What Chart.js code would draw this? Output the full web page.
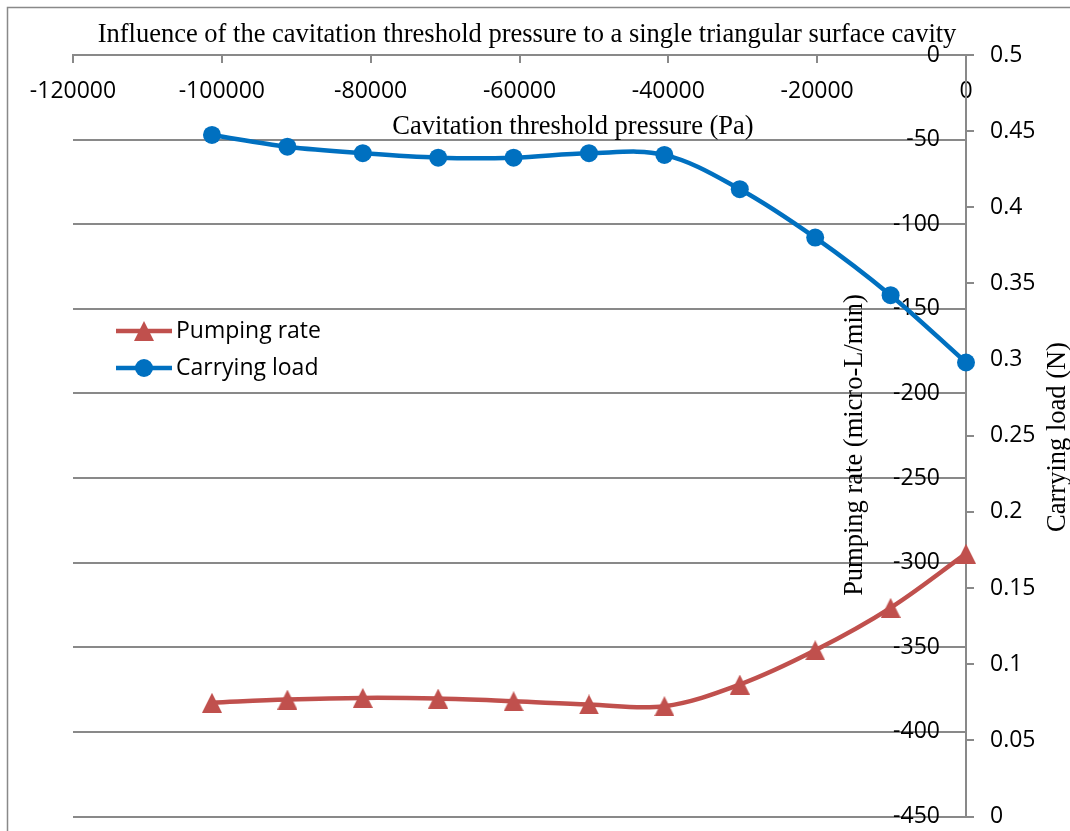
<!DOCTYPE html>
<html lang="en">
  <head>
    <meta charset="UTF-8" />
    <title>Cavitation threshold pressure</title>
    <script src="https://cdn.jsdelivr.net/npm/chart.js@4/dist/chart.umd.min.js"></script>
    <style>
      body {
        margin: 0;
        background: #fff;
      }
      .chart-container {
        width: 1070px;
        height: 831px;
      }
    </style>
  </head>
  <body>
    <div class="chart-container">
      <canvas id="chart"></canvas>
    </div>
  </body>
  <script>
    // cavitation threshold pressure (Pa)
    const pressure = [
      -101325, -91192.5, -81060, -70927.5, -60795, -50662.5, -40530, -30397.5,
      -20265, -10132.5, 0,
    ];
    // micro-L/min
    const pumpingRate = [
      -382.8, -380.9, -379.9, -380.3, -381.9, -383.8, -384.8, -372.0, -351.8,
      -326.7, -294.7,
    ];
    // N
    const carryingLoad = [
      0.4475, 0.4398, 0.4355, 0.4326, 0.4326, 0.4355, 0.4344, 0.4119, 0.3801,
      0.3423, 0.2981,
    ];

    const xTicks = [-120000, -100000, -80000, -60000, -40000, -20000, 0];
    const pumpTicks = [
      0, -50, -100, -150, -200, -250, -300, -350, -400, -450,
    ];
    const loadTicks = [
      0.5, 0.45, 0.4, 0.35, 0.3, 0.25, 0.2, 0.15, 0.1, 0.05, 0,
    ];

    const red = "rgb(192, 80, 77)";
    const blue = "rgb(0, 112, 192)";
    const gridGray = "rgb(137, 137, 137)";
    const tickFont = { family: "'Open Sans'", size: 23 };
    const serif = "'Liberation Serif', 'Times New Roman', serif";

    // triangle centred on its box, like the office marker
    function makeTriangle(w, h, color) {
      const c = document.createElement("canvas");
      c.width = w;
      c.height = h;
      const g = c.getContext("2d");
      g.fillStyle = color;
      g.beginPath();
      g.moveTo(w / 2, 0);
      g.lineTo(w, h);
      g.lineTo(0, h);
      g.closePath();
      g.fill();
      return c;
    }
    const triangle = makeTriangle(20, 20, red);

    const extras = {
      id: "extras",
      afterDraw(chart) {
        const ctx = chart.ctx;
        ctx.save();

        // chart frame
        ctx.strokeStyle = gridGray;
        ctx.lineWidth = 1.5;
        ctx.beginPath();
        ctx.moveTo(7.5, 840);
        ctx.lineTo(7.5, 7.5);
        ctx.lineTo(1080, 7.5);
        ctx.stroke();

        // titles
        ctx.fillStyle = "#000";
        ctx.font = "26.5px " + serif;
        ctx.textAlign = "center";
        ctx.textBaseline = "middle";
        ctx.fillText(
          "Influence of the cavitation threshold pressure to a single triangular surface cavity",
          527,
          35
        );
        ctx.fillText("Cavitation threshold pressure (Pa)", 573, 127);

        ctx.save();
        ctx.translate(855, 445);
        ctx.rotate(-Math.PI / 2);
        ctx.fillText("Pumping rate (micro-L/min)", 0, 0);
        ctx.restore();

        ctx.save();
        ctx.translate(1058, 437);
        ctx.rotate(-Math.PI / 2);
        ctx.fillText("Carrying load (N)", 0, 0);
        ctx.restore();

        // legend
        const items = [
          { label: "Pumping rate", color: red, y: 331 },
          { label: "Carrying load", color: blue, y: 368 },
        ];
        ctx.font = "23px 'Open Sans'";
        ctx.textAlign = "left";
        for (const it of items) {
          ctx.strokeStyle = it.color;
          ctx.lineWidth = 4.5;
          ctx.beginPath();
          ctx.moveTo(116, it.y);
          ctx.lineTo(172, it.y);
          ctx.stroke();
          if (it.color === red) {
            ctx.drawImage(triangle, 134, it.y - 10);
          } else {
            ctx.fillStyle = blue;
            ctx.beginPath();
            ctx.arc(144, it.y, 9, 0, Math.PI * 2);
            ctx.fill();
          }
          ctx.fillStyle = "#000";
          ctx.fillText(it.label, 176, it.y);
        }
        ctx.restore();
      },
    };

    const ctx = document.getElementById("chart").getContext("2d");

    new Chart(ctx, {
      type: "line",
      data: {
        datasets: [
          {
            label: "Pumping rate",
            data: pressure.map((p, i) => ({ x: p, y: pumpingRate[i] })),
            yAxisID: "y",
            borderColor: red,
            backgroundColor: red,
            borderWidth: 4.5,
            pointStyle: triangle,
            pointRadius: 10,
            tension: 0.35,
            clip: false,
          },
          {
            label: "Carrying load",
            data: pressure.map((p, i) => ({ x: p, y: carryingLoad[i] })),
            yAxisID: "y1",
            borderColor: blue,
            backgroundColor: blue,
            borderWidth: 4.5,
            pointStyle: "circle",
            pointRadius: 9,
            pointBorderWidth: 0,
            tension: 0.35,
            clip: false,
          },
        ],
      },
      options: {
        responsive: true,
        maintainAspectRatio: false,
        animation: false,
        layout: {
          padding: { left: 73, bottom: 14, top: 55, right: 0 },
        },
        plugins: {
          legend: { display: false },
          tooltip: { enabled: false },
          title: { display: false },
        },
        scales: {
          x: {
            type: "linear",
            position: { y: 0 },
            min: -120000,
            max: 0,
            afterBuildTicks: (scale) => {
              scale.ticks = xTicks.map((v) => ({ value: v }));
            },
            afterFit: (scale) => {
              scale.height = 0;
            },
            ticks: {
              color: "#000",
              font: tickFont,
              padding: 16,
              maxRotation: 0,
              autoSkip: false,
              callback: (v) => String(v),
            },
            grid: {
              drawOnChartArea: false,
              drawTicks: true,
              tickLength: 7,
              color: gridGray,
              lineWidth: 2,
            },
            border: { display: true, color: gridGray, width: 2 },
          },
          y: {
            type: "linear",
            // labels sit just left of the x = 0 line
            position: { x: -3500 },
            min: -450,
            max: 0,
            afterBuildTicks: (scale) => {
              scale.ticks = pumpTicks.map((v) => ({ value: v }));
            },
            afterFit: (scale) => {
              scale.width = 0;
              scale.paddingTop = 0;
              scale.paddingBottom = 0;
            },
            ticks: {
              color: "#000",
              font: tickFont,
              callback: (v) => String(v),
            },
            grid: {
              drawTicks: false,
              color: gridGray,
              lineWidth: 2,
            },
            border: { display: false },
          },
          y1: {
            type: "linear",
            position: "right",
            min: 0,
            max: 0.5,
            afterBuildTicks: (scale) => {
              scale.ticks = loadTicks.map((v) => ({ value: v }));
            },
            afterFit: (scale) => {
              scale.width = 104;
              scale.paddingTop = 0;
              scale.paddingBottom = 0;
            },
            ticks: {
              color: "#000",
              font: tickFont,
              padding: 16,
              callback: (v) => String(v),
            },
            grid: {
              drawOnChartArea: false,
              drawTicks: true,
              tickLength: 8,
              color: gridGray,
              lineWidth: 2,
            },
            border: { display: true, color: gridGray, width: 2 },
          },
        },
      },
      plugins: [extras],
    });
  </script>
</html>
